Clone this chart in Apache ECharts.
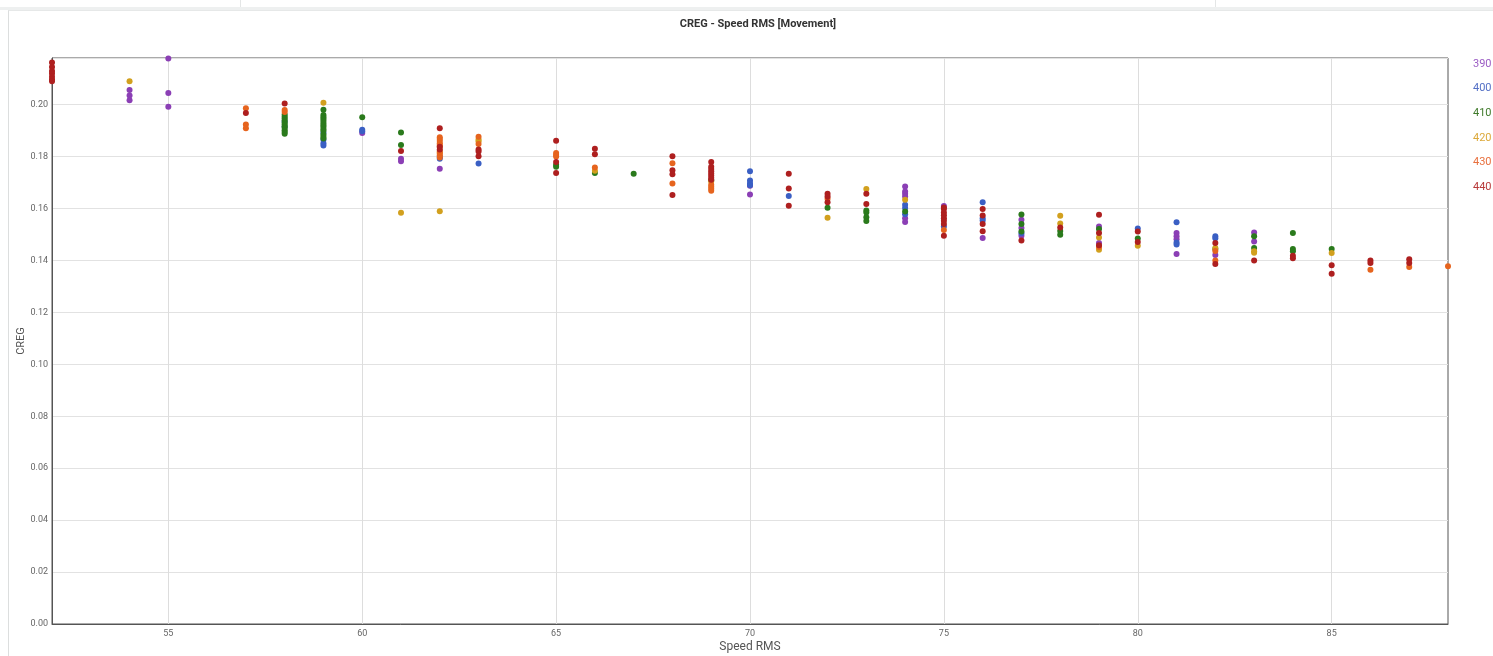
<!DOCTYPE html>
<html>
<head>
<meta charset="utf-8">
<title>CREG - Speed RMS [Movement]</title>
<script src="https://cdn.jsdelivr.net/npm/echarts@6/dist/echarts.min.js"></script>
<style>
  html, body { margin: 0; padding: 0; background: #ffffff; width: 1493px; height: 656px; overflow: hidden; }
  .strip { position: absolute; left: 0; top: 0; width: 1493px; height: 7px; background: #ffffff; }
  .strip .sep { position: absolute; top: 0; width: 1px; height: 7px; background: #e4e6e6; }
  .band { position: absolute; left: 0; top: 7px; width: 1493px; height: 3px; background: #eef0f0; }
  .card { position: absolute; left: 8px; top: 10px; width: 1490px; height: 650px; border-left: 1px solid #dcdede; border-top: 1px solid #e6e8e8; background: #ffffff; }
  #chart { position: absolute; left: 0; top: 0; width: 1493px; height: 656px; }
</style>
</head>
<body>
<div class="strip"><div class="sep" style="left:240px"></div><div class="sep" style="left:1215px"></div></div>
<div class="band"></div>
<div class="card"></div>
<div id="chart"></div>
<script>
// Speed RMS vs CREG, one series per group: [speed, creg]
const s390 = [
  [54, 0.2057], [54, 0.2036], [54, 0.2017],
  [55, 0.2178], [55, 0.2045], [55, 0.1992],
  [60, 0.1891],
  [61, 0.1792], [61, 0.1782],
  [62, 0.1753],
  [70, 0.1688], [70, 0.1654],
  [74, 0.1685], [74, 0.1666], [74, 0.1657], [74, 0.1647], [74, 0.1563], [74, 0.1548],
  [75, 0.1610],
  [76, 0.1487],
  [77, 0.1557], [77, 0.1525], [77, 0.1495],
  [79, 0.1531], [79, 0.1467],
  [81, 0.1506], [81, 0.1493], [81, 0.1482], [81, 0.1425],
  [82, 0.1421],
  [83, 0.1508], [83, 0.1473]
];
const s400 = [
  [58, 0.1935], [58, 0.1915],
  [59, 0.1892], [59, 0.1865], [59, 0.1852], [59, 0.1843],
  [60, 0.1904], [60, 0.1898],
  [62, 0.1792], [62, 0.1800],
  [63, 0.1774],
  [70, 0.1744], [70, 0.1708], [70, 0.1698], [70, 0.1690],
  [71, 0.1648],
  [74, 0.1615], [74, 0.1602], [74, 0.1578],
  [75, 0.1531],
  [76, 0.1624], [76, 0.1563], [76, 0.1554],
  [77, 0.1505],
  [80, 0.1523],
  [81, 0.1547], [81, 0.1469], [81, 0.1462],
  [82, 0.1493], [82, 0.1486]
];
const s410 = [
  [58, 0.1962], [58, 0.1955], [58, 0.1948], [58, 0.1940], [58, 0.1932], [58, 0.1925],
  [58, 0.1917], [58, 0.1910], [58, 0.1902], [58, 0.1895], [58, 0.1888],
  [59, 0.1981], [59, 0.1960], [59, 0.1953], [59, 0.1946], [59, 0.1938], [59, 0.1930],
  [59, 0.1922], [59, 0.1915], [59, 0.1907], [59, 0.1900], [59, 0.1885],
  [59, 0.1877], [59, 0.1870],
  [60, 0.1952],
  [61, 0.1893], [61, 0.1845],
  [65, 0.1769], [65, 0.1761],
  [66, 0.1737],
  [67, 0.1734],
  [69, 0.1709],
  [72, 0.1603],
  [73, 0.1593], [73, 0.1585], [73, 0.1567], [73, 0.1552],
  [74, 0.1589],
  [77, 0.1577], [77, 0.1541], [77, 0.1512],
  [78, 0.1514], [78, 0.1499],
  [79, 0.1521],
  [80, 0.1485],
  [82, 0.1444],
  [83, 0.1493], [83, 0.1448],
  [84, 0.1506], [84, 0.1444], [84, 0.1436],
  [85, 0.1444]
];
const s420 = [
  [54, 0.2090],
  [59, 0.2008],
  [61, 0.1584],
  [62, 0.1817], [62, 0.1590],
  [63, 0.1866], [63, 0.1859],
  [66, 0.1746],
  [69, 0.1704],
  [72, 0.1565],
  [73, 0.1675],
  [74, 0.1634],
  [78, 0.1572], [78, 0.1543],
  [79, 0.1489], [79, 0.1441],
  [80, 0.1457],
  [82, 0.1448],
  [83, 0.1436], [83, 0.1430],
  [85, 0.1429]
];
const s430 = [
  [57, 0.1986], [57, 0.1924], [57, 0.1909],
  [58, 0.1980], [58, 0.1972],
  [62, 0.1875], [62, 0.1868], [62, 0.1860], [62, 0.1852], [62, 0.1845], [62, 0.1838],
  [62, 0.1822], [62, 0.1812], [62, 0.1805], [62, 0.1797],
  [63, 0.1877], [63, 0.1849],
  [65, 0.1814], [65, 0.1806], [65, 0.1801],
  [66, 0.1758],
  [68, 0.1775], [68, 0.1697],
  [69, 0.1692], [69, 0.1684], [69, 0.1676], [69, 0.1669],
  [72, 0.1638],
  [75, 0.1518],
  [79, 0.1452],
  [82, 0.1437], [82, 0.1400],
  [86, 0.1364],
  [87, 0.1375],
  [88, 0.1378]
];
const s440 = [
  [52, 0.2163], [52, 0.2145], [52, 0.2130], [52, 0.2120], [52, 0.2108], [52, 0.2097], [52, 0.2090],
  [57, 0.1968],
  [58, 0.2005],
  [61, 0.1822],
  [62, 0.1909], [62, 0.1838], [62, 0.1828],
  [63, 0.1828], [63, 0.1820], [63, 0.1802],
  [65, 0.1861], [65, 0.1779], [65, 0.1737],
  [66, 0.1830], [66, 0.1809],
  [68, 0.1802], [68, 0.1748], [68, 0.1732], [68, 0.1652],
  [69, 0.1779], [69, 0.1761], [69, 0.1752], [69, 0.1744], [69, 0.1735], [69, 0.1727], [69, 0.1719], [69, 0.1711],
  [71, 0.1734], [71, 0.1677], [71, 0.1611],
  [72, 0.1657], [72, 0.1647], [72, 0.1624],
  [73, 0.1657], [73, 0.1618],
  [75, 0.1604], [75, 0.1598], [75, 0.1585], [75, 0.1574], [75, 0.1563], [75, 0.1553], [75, 0.1541], [75, 0.1495],
  [76, 0.1598], [76, 0.1573], [76, 0.1541], [76, 0.1513],
  [77, 0.1477],
  [78, 0.1527],
  [79, 0.1576], [79, 0.1506], [79, 0.1459],
  [80, 0.1512], [80, 0.1471],
  [82, 0.1467], [82, 0.1387],
  [83, 0.1400],
  [84, 0.1418], [84, 0.1409],
  [85, 0.1382], [85, 0.1349],
  [86, 0.1400], [86, 0.1390],
  [87, 0.1405], [87, 0.1390]
];

const groupNames = ['390', '400', '410', '420', '430', '440'];
const groupData = [s390, s400, s410, s420, s430, s440];
const groupColors = ['#8b3fb5', '#3a5fc4', '#2a7a1c', '#d2a01e', '#e6641e', '#ae1f1f'];
const legendColors = ['#9b5cc4', '#5470c6', '#3f7a2a', '#dca93a', '#e8703e', '#b83a3a'];

// Speed RMS gridline / label positions
const xTicks = [55, 60, 65, 70, 75, 80, 85];

const chart = echarts.init(document.getElementById('chart'), null, { renderer: 'canvas' });

chart.setOption({
  animation: false,
  backgroundColor: 'transparent',
  textStyle: { fontFamily: 'Roboto, "Noto Sans", sans-serif' },
  title: {
    text: 'CREG - Speed RMS [Movement]',
    left: 753,
    top: 14,
    textAlign: 'center',
    textStyle: { fontSize: 11, fontWeight: 'bold', color: '#333333', fontFamily: 'Roboto, sans-serif' }
  },
  legend: {
    orient: 'vertical',
    left: 1463,
    top: 53,
    icon: 'rect',
    itemWidth: 0,
    itemHeight: 12,
    itemGap: 12.6,
    selectedMode: false,
    data: groupNames.map((n, i) => ({ name: n, textStyle: { color: legendColors[i] } })),
    textStyle: { fontSize: 11, fontFamily: 'Roboto, sans-serif' }
  },
  grid: {
    left: 52,
    right: 45,
    top: 58,
    bottom: 32,
    outerBoundsMode: 'none',
    containLabel: false,
    show: true,
    borderColor: '#555555',
    borderWidth: 1
  },
  xAxis: {
    type: 'value',
    min: 52,
    max: 88,
    name: 'Speed RMS',
    nameLocation: 'middle',
    nameGap: 17,
    nameMoveOverlap: false,
    nameTextStyle: { fontSize: 12, color: '#555555' },
    axisLine: { show: true, lineStyle: { color: '#555555', width: 1 } },
    axisTick: { show: false, customValues: xTicks },
    axisLabel: {
      fontSize: 9,
      color: '#666666',
      margin: 5,
      customValues: xTicks
    },
    splitLine: { show: true, lineStyle: { color: '#dddddd', width: 1 } }
  },
  yAxis: {
    type: 'value',
    min: 0,
    max: 0.218,
    interval: 0.02,
    name: 'CREG',
    nameLocation: 'middle',
    nameGap: 25,
    nameMoveOverlap: false,
    nameTextStyle: { fontSize: 11, color: '#555555' },
    axisLine: { show: true, lineStyle: { color: '#555555', width: 1 } },
    axisTick: { show: false },
    axisLabel: {
      fontSize: 9,
      color: '#666666',
      margin: 4,
      showMaxLabel: false,
      formatter: v => (Math.abs(v / 0.02 - Math.round(v / 0.02)) < 1e-6 ? v.toFixed(2) : '')
    },
    splitLine: { show: true, lineStyle: { color: '#e2e2e2', width: 1 } }
  },
  series: groupNames.map((n, i) => ({
    name: n,
    type: 'scatter',
    symbol: 'circle',
    symbolSize: 6,
    itemStyle: { color: groupColors[i], opacity: 1 },
    emphasis: { disabled: true },
    data: groupData[i]
  }))
});
</script>
</body>
</html>
